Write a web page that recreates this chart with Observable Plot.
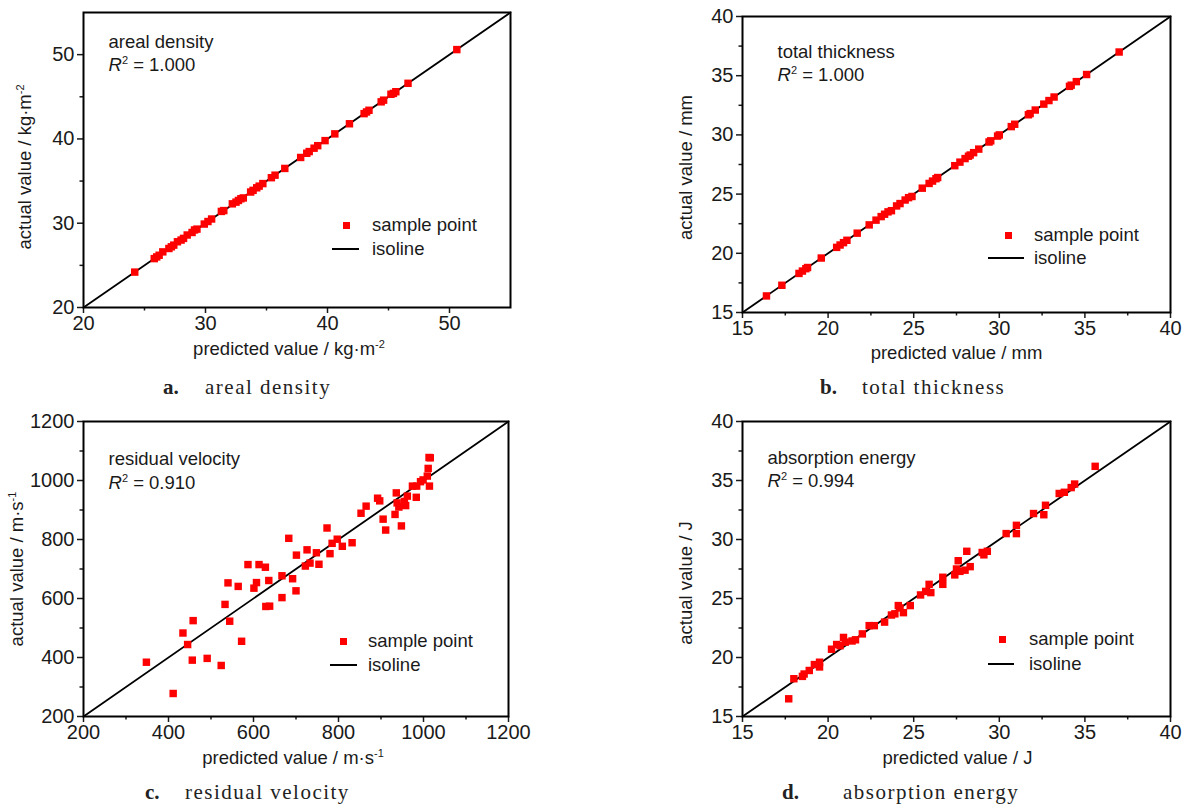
<!DOCTYPE html>
<html><head><meta charset="utf-8">
<script src="https://cdn.jsdelivr.net/npm/d3@7"></script>
<script src="https://cdn.jsdelivr.net/npm/@observablehq/plot@0.6"></script>
<style>
body{margin:0;background:#fff;}
#page{position:relative;width:1190px;height:805px;overflow:hidden;font-family:"Liberation Sans",Arial,sans-serif;color:#1a1a1a;background:#fff}
.panel{position:absolute}
.lg-sq{position:absolute;width:7px;height:7px;background:#f00}
.lg-line{position:absolute;height:0;border-top:2px solid #000}
.lg-text{position:absolute;font-size:18.5px;line-height:20px;white-space:nowrap;color:#1a1a1a}
.cap{position:absolute;font-family:"Liberation Serif","DejaVu Serif",serif;font-size:21px;letter-spacing:1.5px;line-height:24px;white-space:nowrap;color:#222}
.cap.b{font-weight:bold;letter-spacing:0}
</style></head><body><div id="page"></div><script>
// ---------------- data ----------------
const areaPred = [24.2, 25.8, 26.0, 26.2, 26.5, 27.0, 27.2, 27.4, 27.7, 28.0, 28.2, 28.5, 28.9, 29.1, 29.3, 29.9, 30.2, 30.5, 31.3, 31.5, 32.2, 32.5, 32.7, 32.9, 33.1, 33.7, 33.9, 34.2, 34.4, 34.7, 35.4, 35.7, 36.5, 37.8, 38.3, 38.5, 38.9, 39.2, 39.8, 40.6, 41.8, 43.0, 43.2, 43.4, 44.4, 44.6, 45.2, 45.4, 45.6, 46.6, 50.6];
const areaAct  = [24.2, 25.8, 26.0, 26.2, 26.6, 27.0, 27.2, 27.4, 27.8, 28.0, 28.2, 28.6, 28.9, 29.2, 29.3, 29.9, 30.2, 30.5, 31.4, 31.5, 32.3, 32.5, 32.7, 32.9, 33.0, 33.7, 33.9, 34.2, 34.4, 34.7, 35.4, 35.7, 36.5, 37.8, 38.3, 38.5, 38.9, 39.2, 39.8, 40.6, 41.8, 43.0, 43.2, 43.4, 44.4, 44.6, 45.3, 45.4, 45.6, 46.6, 50.6];

const thickPred = [16.4, 17.3, 18.3, 18.5, 18.7, 18.8, 19.6, 20.5, 20.7, 20.9, 21.1, 21.7, 22.4, 22.8, 23.1, 23.3, 23.5, 23.7, 24.0, 24.2, 24.5, 24.7, 24.9, 25.5, 25.9, 26.1, 26.3, 26.4, 27.4, 27.7, 28.0, 28.2, 28.3, 28.5, 28.8, 29.4, 29.5, 29.9, 30.0, 30.7, 30.9, 31.7, 31.8, 32.1, 32.6, 32.9, 33.2, 34.1, 34.2, 34.5, 35.1, 37.0];
const thickAct  = [16.4, 17.3, 18.3, 18.5, 18.7, 18.8, 19.6, 20.5, 20.7, 20.9, 21.1, 21.7, 22.4, 22.8, 23.1, 23.3, 23.5, 23.6, 24.0, 24.2, 24.5, 24.7, 24.8, 25.5, 25.9, 26.1, 26.3, 26.4, 27.4, 27.7, 28.0, 28.2, 28.3, 28.5, 28.8, 29.4, 29.5, 29.9, 30.0, 30.7, 30.9, 31.7, 31.8, 32.1, 32.6, 32.9, 33.2, 34.1, 34.2, 34.5, 35.1, 37.0];

const velPred = [348, 411, 434, 445, 456, 458, 491, 524, 533, 540, 544, 564, 572, 587, 601, 607, 613, 628, 629, 636, 638, 667, 667, 683, 692, 700, 701, 722, 726, 733, 748, 754, 773, 780, 785, 797, 809, 832, 853, 865, 892, 897, 905, 911, 933, 936, 938, 942, 948, 955, 958, 962, 974, 983, 984, 993, 999, 1009, 1011, 1013, 1016, 1014];
const velAct  = [384, 278, 483, 444, 391, 525, 397, 373, 580, 653, 523, 641, 455, 715, 635, 654, 715, 706, 573, 661, 574, 677, 603, 804, 667, 626, 747, 710, 765, 720, 755, 716, 839, 752, 787, 801, 777, 789, 889, 913, 940, 931, 869, 832, 885, 958, 924, 910, 846, 929, 915, 947, 981, 943, 981, 996, 1002, 1015, 1041, 1078, 1077, 981];

const energyPred = [17.7, 18.0, 18.5, 18.6, 18.9, 19.2, 19.5, 19.5, 20.2, 20.5, 20.7, 20.9, 21.0, 21.4, 21.6, 22.0, 22.4, 22.7, 23.3, 23.7, 23.9, 24.1, 24.2, 24.4, 24.8, 25.4, 25.7, 25.9, 26.0, 26.7, 26.7, 27.4, 27.5, 27.6, 27.7, 28.0, 28.1, 28.3, 29.0, 29.1, 29.3, 30.4, 31.0, 31.0, 32.0, 32.6, 32.7, 33.5, 33.8, 34.2, 34.4, 35.6];
const energyAct  = [16.5, 18.2, 18.4, 18.6, 18.9, 19.4, 19.2, 19.6, 20.7, 21.1, 21.0, 21.7, 21.3, 21.4, 21.5, 22.0, 22.7, 22.7, 23.0, 23.6, 23.7, 24.4, 24.2, 23.8, 24.4, 25.3, 25.6, 26.2, 25.5, 26.2, 26.8, 27.0, 27.5, 28.2, 27.3, 27.4, 29.0, 27.7, 28.9, 28.7, 29.0, 30.5, 31.2, 30.5, 32.2, 32.1, 32.9, 33.9, 34.0, 34.4, 34.7, 36.2];

const titles = ["areal density", "total thickness", "residual velocity", "absorption energy"];
const r2Values = ["1.000", "1.000", "0.910", "0.994"];
const xLabels = ["predicted value / kg·m<sup>-2</sup>", "predicted value / mm", "predicted value / m·s<sup>-1</sup>", "predicted value / J"];
const yLabels = ["actual value / kg·m<sup>-2</sup>", "actual value / mm", "actual value / m·s<sup>-1</sup>", "actual value / J"];
const captionLetters = ["a.", "b.", "c.", "d."];
const domains = [[20, 55], [15, 40], [200, 1200], [15, 40]];
const majorTicks = [[20, 30, 40, 50], [15, 20, 25, 30, 35, 40], [200, 400, 600, 800, 1000, 1200], [15, 20, 25, 30, 35, 40]];
const minorTicks = [[25, 35, 45], [17.5, 22.5, 27.5, 32.5, 37.5], [300, 500, 700, 900, 1100], [17.5, 22.5, 27.5, 32.5, 37.5]];
const legendLabels = ["sample point", "isoline"];

const preds = [areaPred, thickPred, velPred, energyPred];
const acts = [areaAct, thickAct, velAct, energyAct];

// ---------------- layout ----------------
const layout = [
  {left: 0, top: 0, width: 560, height: 360, mL: 83, mR: 50, mT: 12, mB: 53, titleDx: 25, titleDy: 30, r2Dy: 53, yLabDx: -58, yLabDy: 7, xLabDx: -8, xLabDy: 42,
   legend: {sq: [346, 225], text: 372, line: [332, 359, 249]}, cap: {letter: 163, text: 205, y: 388}},
  {left: 600, top: 0, width: 590, height: 360, mL: 142, mR: 20, mT: 16, mB: 48, titleDx: 35, titleDy: 36, r2Dy: 59, yLabDx: -56, yLabDy: 3, xLabDx: 0, xLabDy: 41,
   legend: {sq: [1008, 235], text: 1034, line: [988, 1024, 258]}, cap: {letter: 820, text: 862, y: 388}},
  {left: 0, top: 405, width: 560, height: 360, mL: 83, mR: 52, mT: 16, mB: 49, titleDx: 25, titleDy: 38, r2Dy: 62, yLabDx: -66, yLabDy: 0, xLabDx: -3, xLabDy: 42,
   legend: {sq: [343, 641], text: 368, line: [330, 357, 665]}, cap: {letter: 145, text: 185, y: 793}},
  {left: 600, top: 405, width: 590, height: 360, mL: 142, mR: 20, mT: 16, mB: 49, titleDx: 25, titleDy: 37, r2Dy: 60, yLabDx: -56, yLabDy: 14, xLabDx: 1, xLabDy: 42,
   legend: {sq: [1002, 639], text: 1029, line: [988, 1014, 664]}, cap: {letter: 782, text: 843, y: 793}}
];

const FONT = '"Liberation Sans", Arial, sans-serif';
const INK = "#1a1a1a";
const TICK_FS = 20;
const FS = 18.5;

function richify(svg) {
  const NS = "http://www.w3.org/2000/svg";
  svg.querySelectorAll("text").forEach(el => {
    const t = el.textContent;
    if (!t.includes("<")) return;
    while (el.firstChild) el.removeChild(el.firstChild);
    const parts = t.split(/(<i>.*?<\/i>|<sup>.*?<\/sup>)/).filter(s => s.length);
    let shift = 0;
    for (const part of parts) {
      const ts = document.createElementNS(NS, "tspan");
      const sup = part.match(/^<sup>(.*)<\/sup>$/);
      if (sup) {
        ts.textContent = sup[1];
        ts.setAttribute("font-size", "11");
        ts.setAttribute("dy", "-7");
        shift = 7;
      } else {
        const it = part.match(/^<i>(.*)<\/i>$/);
        ts.textContent = it ? it[1] : part;
        if (it) ts.setAttribute("font-style", "italic");
        if (shift) { ts.setAttribute("dy", String(shift)); shift = 0; }
      }
      el.appendChild(ts);
    }
  });
}

const page = document.getElementById("page");

layout.forEach((L, i) => {
  const data = preds[i].map((p, j) => ({p, a: acts[i][j]}));
  const dom = domains[i];
  const fmt = d => String(d);
  const chart = Plot.plot({
    width: L.width, height: L.height,
    marginLeft: L.mL, marginRight: L.mR, marginTop: L.mT, marginBottom: L.mB,
    style: {fontFamily: FONT, fontSize: TICK_FS + "px", color: INK, background: "transparent", overflow: "visible"},
    x: {domain: dom, label: null},
    y: {domain: dom, label: null},
    marks: [
      Plot.axisX(majorTicks[i], {tickSize: 6, tickPadding: 2, strokeWidth: 1.5, label: null, fontSize: TICK_FS, tickFormat: fmt}),
      Plot.axisX(minorTicks[i], {tickSize: 3.5, strokeWidth: 1.5, tickFormat: () => "", label: null}),
      Plot.axisY(majorTicks[i], {tickSize: 6, tickPadding: 3, strokeWidth: 1.5, label: null, fontSize: TICK_FS, tickFormat: fmt}),
      Plot.axisY(minorTicks[i], {tickSize: 3.5, strokeWidth: 1.5, tickFormat: () => "", label: null}),
      Plot.line(dom, {x: d => d, y: d => d, stroke: "#000", strokeWidth: 1.8}),
      Plot.dot(data, {x: "p", y: "a", symbol: "square", r: 4.2, fill: "#f00", stroke: "none"}),
      Plot.frame({stroke: "#000", strokeWidth: 2}),
      Plot.text([titles[i]], {frameAnchor: "top-left", textAnchor: "start", lineAnchor: "middle", dx: L.titleDx, dy: L.titleDy, fontSize: FS, fill: INK}),
      Plot.text([`<i>R</i><sup>2</sup> = ${r2Values[i]}`], {frameAnchor: "top-left", textAnchor: "start", lineAnchor: "middle", dx: L.titleDx, dy: L.r2Dy, fontSize: FS, fill: INK}),
      Plot.text([xLabels[i]], {frameAnchor: "bottom", textAnchor: "middle", lineAnchor: "middle", dx: L.xLabDx, dy: L.xLabDy, fontSize: FS, fill: INK}),
      Plot.text([yLabels[i]], {frameAnchor: "left", textAnchor: "middle", lineAnchor: "middle", rotate: -90, dx: L.yLabDx, dy: L.yLabDy, fontSize: FS, fill: INK})
    ]
  });
  richify(chart);
  const wrap = document.createElement("div");
  wrap.className = "panel";
  wrap.style.left = L.left + "px";
  wrap.style.top = L.top + "px";
  wrap.appendChild(chart);
  page.appendChild(wrap);

  // legend
  const lg = L.legend;
  const sq = document.createElement("div");
  sq.className = "lg-sq";
  sq.style.left = (lg.sq[0] - 3.5) + "px";
  sq.style.top = (lg.sq[1] - 3.5) + "px";
  page.appendChild(sq);
  const t1 = document.createElement("div");
  t1.className = "lg-text";
  t1.textContent = legendLabels[0];
  t1.style.left = lg.text + "px";
  t1.style.top = (lg.sq[1] - 10) + "px";
  page.appendChild(t1);
  const ln = document.createElement("div");
  ln.className = "lg-line";
  ln.style.left = lg.line[0] + "px";
  ln.style.width = (lg.line[1] - lg.line[0]) + "px";
  ln.style.top = (lg.line[2] - 1) + "px";
  page.appendChild(ln);
  const t2 = document.createElement("div");
  t2.className = "lg-text";
  t2.textContent = legendLabels[1];
  t2.style.left = lg.text + "px";
  t2.style.top = (lg.line[2] - 10) + "px";
  page.appendChild(t2);

  // caption
  const c1 = document.createElement("div");
  c1.className = "cap b";
  c1.textContent = captionLetters[i];
  c1.style.left = L.cap.letter + "px";
  c1.style.top = (L.cap.y - 13) + "px";
  page.appendChild(c1);
  const c2 = document.createElement("div");
  c2.className = "cap";
  c2.textContent = titles[i];
  c2.style.left = L.cap.text + "px";
  c2.style.top = (L.cap.y - 13) + "px";
  page.appendChild(c2);
});
</script></body></html>
